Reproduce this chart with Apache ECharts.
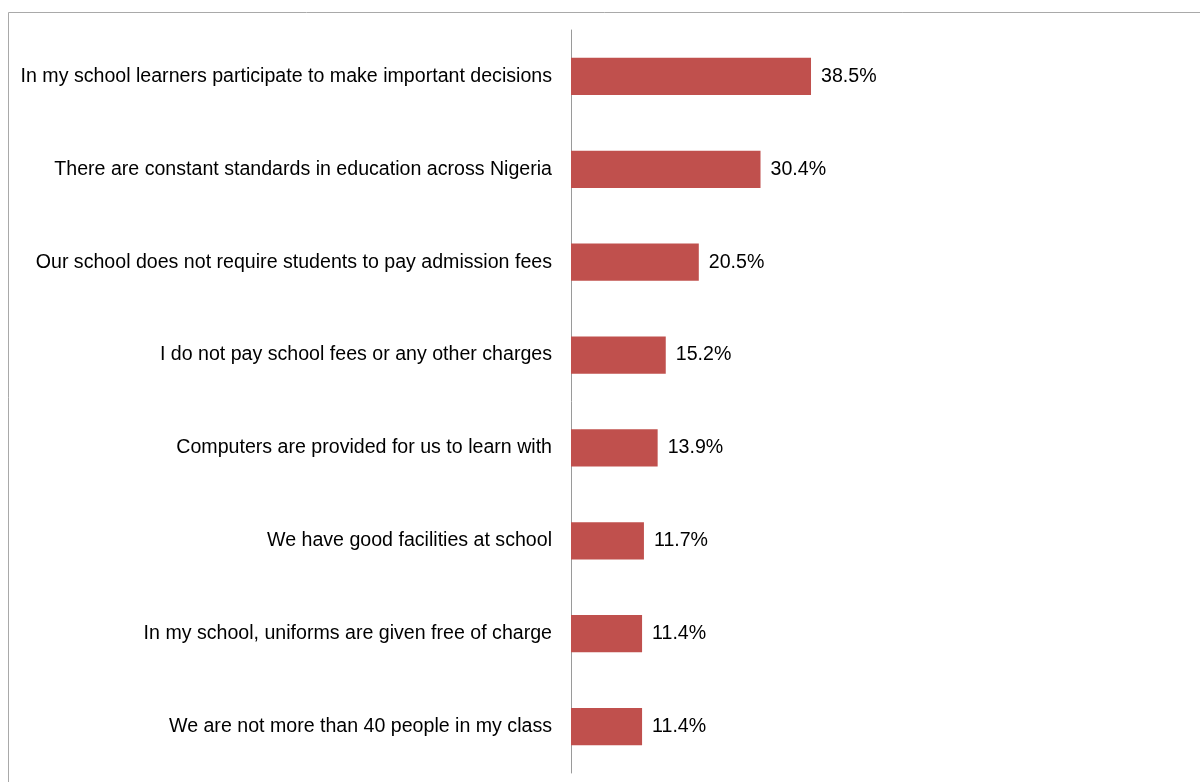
<!DOCTYPE html>
<html>
<head>
<meta charset="utf-8">
<script src="https://cdn.jsdelivr.net/npm/echarts@6/dist/echarts.min.js"></script>
<style>
  html, body { margin: 0; padding: 0; background: #fff; }
  #chart { width: 1200px; height: 782px; }
</style>
</head>
<body>
<div id="chart"></div>
<script>
// Statements, top to bottom as shown
const categories = [
  'In my school learners participate to make important decisions',
  'There are constant standards in education across Nigeria',
  'Our school does not require students to pay admission fees',
  'I do not pay school fees or any other charges',
  'Computers are provided for us to learn with',
  'We have good facilities at school',
  'In my school, uniforms are given free of charge',
  'We are not more than 40 people in my class'
];
// Share of respondents agreeing (%)
const values = [38.5, 30.4, 20.5, 15.2, 13.9, 11.7, 11.4, 11.4];

const chart = echarts.init(document.getElementById('chart'));
chart.setOption({
  animation: false,
  textStyle: { fontFamily: 'Liberation Sans, Arial, sans-serif' },
  graphic: [{
    type: 'rect',
    shape: { x: 8.5, y: 12.5, width: 1300, height: 900 },
    style: { fill: 'none', stroke: '#a9a9a9', lineWidth: 1 },
    silent: true
  }],
  grid: { left: 571, top: 30, width: 623.4, height: 743 },
  xAxis: {
    type: 'value', min: 0, max: 100,
    show: false
  },
  yAxis: {
    type: 'category',
    inverse: true,
    data: categories,
    axisLine: { show: true, lineStyle: { color: '#9a9a9a', width: 1 } },
    axisTick: { show: false },
    axisLabel: { color: '#000', fontSize: 19.6, margin: 19 }
  },
  series: [{
    type: 'bar',
    data: values,
    barWidth: '40%',
    itemStyle: { color: '#C0504D' },
    label: {
      show: true, position: 'right', distance: 10,
      color: '#000', fontSize: 19.6,
      formatter: p => p.value.toFixed(1) + '%'
    }
  }]
});
</script>
</body>
</html>
